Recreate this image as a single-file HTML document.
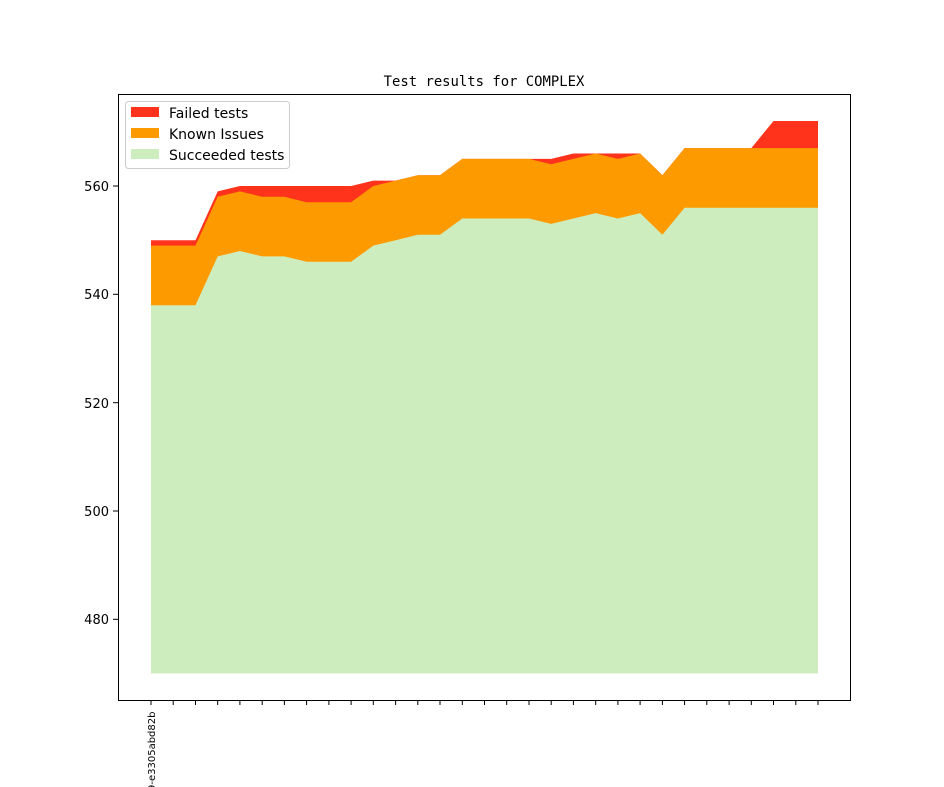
<!DOCTYPE html>
<html><head><style>body{margin:0;background:#fff}svg{display:block}</style></head><body>
<svg width="944" height="787" xmlns="http://www.w3.org/2000/svg" font-family="DejaVu Sans, Liberation Sans, sans-serif">
<rect width="944" height="787" fill="#fff"/>
<polygon fill="#ff331c" points="151,240.2 173.2,240.2 195.5,240.2 217.7,191.4 239.9,186 262.2,186 284.4,186 306.6,186 328.9,186 351.1,186 373.3,180.6 395.6,180.6 417.8,175.2 440,175.2 462.3,158.9 484.5,158.9 506.7,158.9 529,158.9 551.2,158.9 573.4,153.5 595.7,153.5 617.9,153.5 640.1,153.5 662.4,175.2 684.6,148.1 706.8,148.1 729.1,148.1 751.3,148.1 773.5,121 795.8,121 818,121 818,673.5 151,673.5"/>
<polygon fill="#fd9a00" points="151,245.6 173.2,245.6 195.5,245.6 217.7,196.8 239.9,191.4 262.2,196.8 284.4,196.8 306.6,202.3 328.9,202.3 351.1,202.3 373.3,186 395.6,180.6 417.8,175.2 440,175.2 462.3,158.9 484.5,158.9 506.7,158.9 529,158.9 551.2,164.3 573.4,158.9 595.7,153.5 617.9,158.9 640.1,153.5 662.4,175.2 684.6,148.1 706.8,148.1 729.1,148.1 751.3,148.1 773.5,148.1 795.8,148.1 818,148.1 818,673.5 151,673.5"/>
<polygon fill="#ceedbf" points="151,305.2 173.2,305.2 195.5,305.2 217.7,256.4 239.9,251 262.2,256.4 284.4,256.4 306.6,261.8 328.9,261.8 351.1,261.8 373.3,245.6 395.6,240.2 417.8,234.8 440,234.8 462.3,218.5 484.5,218.5 506.7,218.5 529,218.5 551.2,223.9 573.4,218.5 595.7,213.1 617.9,218.5 640.1,213.1 662.4,234.8 684.6,207.7 706.8,207.7 729.1,207.7 751.3,207.7 773.5,207.7 795.8,207.7 818,207.7 818,673.5 151,673.5"/>
<rect x="118.5" y="94.5" width="732" height="606" fill="none" stroke="#000" stroke-width="1"/>
<text x="484" y="86" text-anchor="middle" font-family="DejaVu Sans Mono, Liberation Mono, monospace" font-size="13.9">Test results for COMPLEX</text>
<g font-size="13" text-anchor="end">
<line x1="113" x2="118" y1="186" y2="186" stroke="#000"/><text x="109" y="191">560</text>
<line x1="113" x2="118" y1="294.3" y2="294.3" stroke="#000"/><text x="109" y="299">540</text>
<line x1="113" x2="118" y1="402.7" y2="402.7" stroke="#000"/><text x="109" y="408">520</text>
<line x1="113" x2="118" y1="511" y2="511" stroke="#000"/><text x="109" y="516">500</text>
<line x1="113" x2="118" y1="619.3" y2="619.3" stroke="#000"/><text x="109" y="624">480</text>
</g>
<path stroke="#000" stroke-width="1" d="M151,700v5M173.2,700v5M195.5,700v5M217.7,700v5M239.9,700v5M262.2,700v5M284.4,700v5M306.6,700v5M328.9,700v5M351.1,700v5M373.3,700v5M395.6,700v5M417.8,700v5M440,700v5M462.3,700v5M484.5,700v5M506.7,700v5M529,700v5M551.2,700v5M573.4,700v5M595.7,700v5M617.9,700v5M640.1,700v5M662.4,700v5M684.6,700v5M706.8,700v5M729.1,700v5M751.3,700v5M773.5,700v5M795.8,700v5M818,700v5"/>
<text transform="translate(155,791) rotate(-90)" font-size="10">9-e3305abd82b</text>
<rect x="125.5" y="101.5" width="164" height="67" rx="3" fill="#fff" stroke="#ccc"/>
<rect x="131" y="107" width="28" height="10" fill="#ff331c"/>
<rect x="131" y="128" width="28" height="10" fill="#fd9a00"/>
<rect x="131" y="149" width="28" height="10" fill="#ceedbf"/>
<g font-size="14"><text x="169" y="118">Failed tests</text><text x="169" y="139">Known Issues</text><text x="169" y="160">Succeeded tests</text></g>
</svg>
</body></html>
